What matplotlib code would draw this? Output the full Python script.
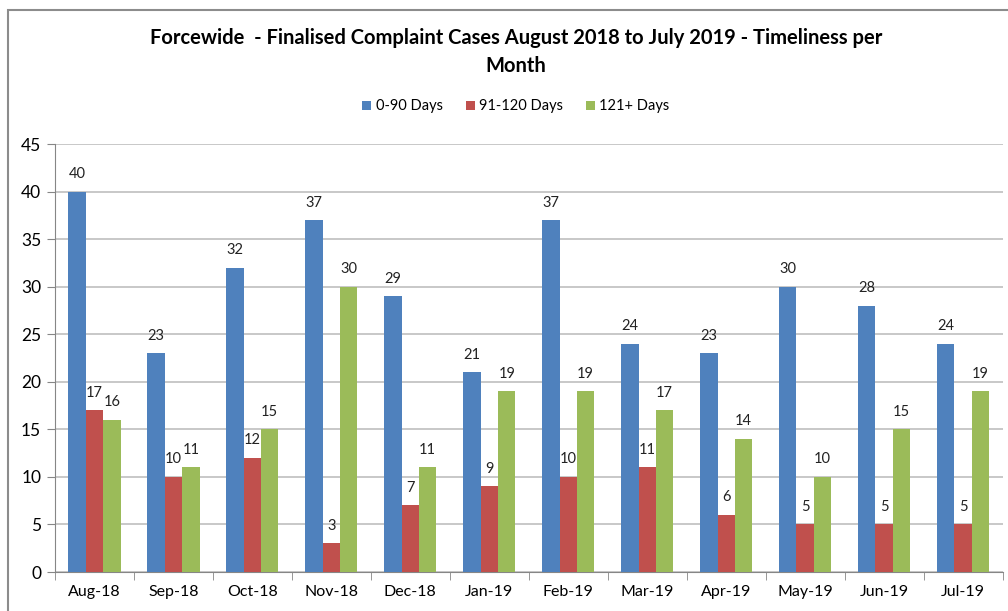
import matplotlib.pyplot as plt
import numpy as np
from matplotlib.patches import Rectangle

months = ["Aug-18", "Sep-18", "Oct-18", "Nov-18", "Dec-18", "Jan-19",
          "Feb-19", "Mar-19", "Apr-19", "May-19", "Jun-19", "Jul-19"]
days_0_90 = [40, 23, 32, 37, 29, 21, 37, 24, 23, 30, 28, 24]
days_91_120 = [17, 10, 12, 3, 7, 9, 10, 11, 6, 5, 5, 5]
days_121 = [16, 11, 15, 30, 11, 19, 19, 17, 14, 10, 15, 19]
series_names = ["0-90 Days", "91-120 Days", "121+ Days"]
colors = ["#4F81BD", "#C0504D", "#9BBB59"]

plt.rcParams["font.family"] = ["Lato", "DejaVu Sans"]

fig = plt.figure(figsize=(10.08, 6.11), dpi=100)
ax = fig.add_axes([0.0546, 0.0638, 0.940, 0.7005])

# chart outer border
fig.patches.append(Rectangle((8 / 1008, -0.1), 1.2, 1 - 10 / 611 + 0.1,
                             transform=fig.transFigure, fill=False,
                             edgecolor="#8c8c8c", linewidth=1.5))

x = np.arange(len(months))
w = 0.22
for i, (vals, name, c) in enumerate(zip([days_0_90, days_91_120, days_121],
                                         series_names, colors)):
    bars = ax.bar(x + (i - 1) * w, vals, w, color=c, label=name, zorder=3)
    for b, v in zip(bars, vals):
        ax.text(b.get_x() + b.get_width() / 2, v + 1.1, str(v),
                ha="center", va="bottom", fontsize=10.5, color="#222222")

ax.set_xlim(-0.5, len(months) - 0.5)
ax.set_ylim(0, 45)
ax.set_yticks(range(0, 46, 5))
ax.set_xticks(x)
ax.set_xticklabels(months)
ax.set_xticks(np.arange(-0.5, len(months), 1), minor=True)
ax.tick_params(axis="x", which="major", length=0, labelsize=11.5, pad=9)
ax.tick_params(axis="x", which="minor", length=6, color="#868686")
ax.tick_params(axis="y", labelsize=12.5, length=6, color="#868686", pad=4)
ax.grid(axis="y", color="#BFBFBF", linewidth=1.2, zorder=0)
for s in ["top", "right"]:
    ax.spines[s].set_visible(False)
for s in ["left", "bottom"]:
    ax.spines[s].set_color("#868686")

fig.text(0.512, 0.915,
         "Forcewide  - Finalised Complaint Cases August 2018 to July 2019 - Timeliness per\nMonth",
         ha="center", va="center", fontsize=14.5, fontweight="bold", linespacing=1.5)

fig.legend(loc="center", bbox_to_anchor=(0.512, 0.826), ncol=3, frameon=False,
           fontsize=10.5, handlelength=0.6, handleheight=0.6, handletextpad=0.3,
           columnspacing=1.6)

fig.savefig("out.png", dpi=100)
